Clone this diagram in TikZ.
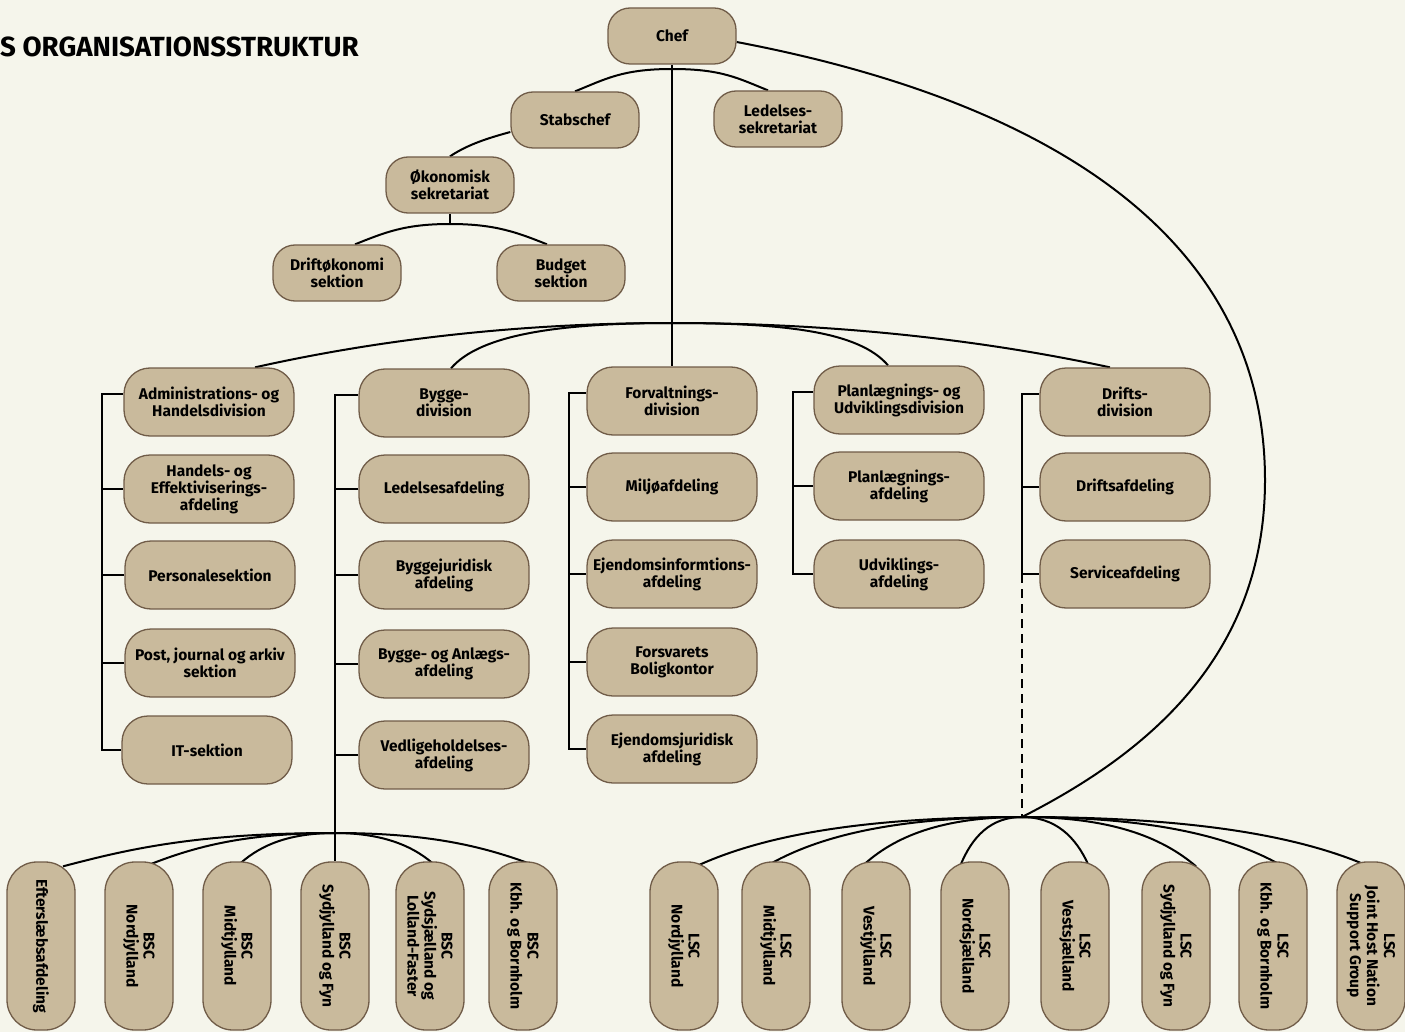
\documentclass[tikz,border=0pt]{standalone}
\usepackage{fontspec}
\usepackage{graphicx,xcolor}
\setmainfont{Fira Sans}
\definecolor{paper}{RGB}{245,245,235}
\definecolor{tan}{RGB}{201,186,156}
\definecolor{rim}{RGB}{112,92,72}
\pgfdeclarelayer{back}
\pgfdeclarelayer{links}
\pgfsetlayers{back,links,main}
\tikzset{
  unit/.style={draw=rim, fill=tan, line width=1.3pt, rounded corners=26pt, align=center,
    inner sep=2pt, font=\bfseries\fontsize{15.5}{17}\selectfont,
    minimum width=170pt, minimum height=68pt},
  topunit/.style={unit, minimum width=128pt, minimum height=56pt, rounded corners=22pt},
  vunit/.style={unit, rotate=-90, minimum width=168pt, minimum height=68pt, rounded corners=30pt},
  link/.style={black, line width=2pt},
  dashlink/.style={link, dash pattern=on 9pt off 6pt},
}

\begin{document}
\begin{tikzpicture}[x=1pt,y=-1pt]
    \useasboundingbox (0,0) rectangle (1405,1032);
    \begin{pgfonlayer}{back}
      \fill[paper] (0,0) rectangle (1405,1032);
    \end{pgfonlayer}
    \node[anchor=base west, inner sep=0pt, font=\bfseries\fontsize{27.7}{32}\selectfont] (title) at (0,57) {S ORGANISATIONSSTRUKTUR};

    % top of the chart
    \node[topunit] (chef) at (672,36) {Chef};
    \node[topunit] (stab) at (575,120) {Stabschef};
    \node[topunit] (led) at (778,119) {Ledelses-\\sekretariat};
    \node[topunit] (oek) at (450,185) {Økonomisk\\sekretariat};
    \node[topunit] (droek) at (337,273) {Driftøkonomi\\sektion};
    \node[topunit] (budget) at (561,273) {Budget\\sektion};

    % divisions
    \node[unit] (adm) at (209,402) {Administrations- og\\Handelsdivision};
    \node[unit] (bygge) at (444,403) {Bygge-\\division};
    \node[unit] (forv) at (672,401) {Forvaltnings-\\division};
    \node[unit] (plan) at (899,400) {Planlægnings- og\\Udviklingsdivision};
    \node[unit] (drifts) at (1125,402) {Drifts-\\division};

    % sections under the divisions
    \node[unit] (hand) at (209,489) {Handels- og\\Effektiviserings-\\afdeling};
    \node[unit] (pers) at (210,575) {Personalesektion};
    \node[unit] (post) at (210,663) {Post, journal og arkiv\\sektion};
    \node[unit] (it) at (207,750) {IT-sektion};

    \node[unit] (ledaf) at (444,489) {Ledelsesafdeling};
    \node[unit] (byjur) at (444,575) {Byggejuridisk\\afdeling};
    \node[unit] (byanl) at (444,664) {Bygge- og Anlægs-\\afdeling};
    \node[unit] (vedl) at (444,755) {Vedligeholdelses-\\afdeling};

    \node[unit] (milj) at (672,487) {Miljøafdeling};
    \node[unit] (einf) at (672,574) {Ejendomsinformtions-\\afdeling};
    \node[unit] (bolig) at (672,662) {Forsvarets\\Boligkontor};
    \node[unit] (ejur) at (672,749) {Ejendomsjuridisk\\afdeling};

    \node[unit] (planaf) at (899,486) {Planlægnings-\\afdeling};
    \node[unit] (udv) at (899,574) {Udviklings-\\afdeling};

    \node[unit] (driftaf) at (1125,487) {Driftsafdeling};
    \node[unit] (serv) at (1125,574) {Serviceafdeling};

    % BSC row
    \node[vunit] (eft) at (41,946) {Efterslæbsafdeling};
    \node[vunit] (bnord) at (139,946) {BSC\\Nordjylland};
    \node[vunit] (bmidt) at (237,946) {BSC\\Midtjylland};
    \node[vunit] (bsyd) at (335,946) {BSC\\Sydjylland og Fyn};
    \node[vunit] (bsydsj) at (430,946) {BSC\\Sydsjælland og\\Lolland-Faster};
    \node[vunit] (bkbh) at (523,946) {BSC\\Kbh. og Bornholm};

    % LSC row
    \node[vunit] (lnord) at (684,946) {LSC\\Nordjylland};
    \node[vunit] (lmidt) at (776,946) {LSC\\Midtjylland};
    \node[vunit] (lvest) at (876,946) {LSC\\Vestjylland};
    \node[vunit] (lnsj) at (975,946) {LSC\\Nordsjælland};
    \node[vunit] (lvsj) at (1075,946) {LSC\\Vestsjælland};
    \node[vunit] (lsyd) at (1176,946) {LSC\\Sydjylland og Fyn};
    \node[vunit] (lkbh) at (1273,946) {LSC\\Kbh. og Bornholm};
    \node[vunit] (ljoint) at (1371,946) {LSC\\Joint Host Nation\\Support Group};

    % junctions and bus columns
    \coordinate (jstab) at (672,69);
    \coordinate (joek) at (450,224);
    \coordinate (jdiv) at (672,323);
    \coordinate (jbsc) at (335,833);
    \coordinate (jlsc) at (1022,817);
    \coordinate (cadm) at (102,0);
    \coordinate (cforv) at (569,0);
    \coordinate (cplan) at (793,0);
    \coordinate (cdrift) at (1022,0);

    \begin{pgfonlayer}{links}
    % chef and staff
    \draw[link] (chef.south) -- (forv.north);
    \draw[link] (jstab) .. controls +(-50,0) and +(30,-12) .. (stab.north);
    \draw[link] (jstab) .. controls +(50,0) and +(-30,-12) .. ([xshift=-10pt]led.north);
    \draw[link] ([yshift=-12pt]stab.west) .. controls +(-22,6) and +(18,-12) .. (oek.north);
    \draw[link] (oek.south) -- (joek);
    \draw[link] (joek) .. controls +(-45,0) and +(30,-12) .. ([xshift=18pt]droek.north);
    \draw[link] (joek) .. controls +(45,0) and +(-30,-12) .. ([xshift=-14pt]budget.north);

    % chef to divisions
    \draw[link] (jdiv) .. controls +(-152,0) and +(125,-28) .. ([xshift=46pt]adm.north);
    \draw[link] (jdiv) .. controls +(-112,0) and +(29,-34) .. ([xshift=7pt]bygge.north);
    \draw[link] (jdiv) .. controls +(112,0) and +(-29,-34) .. ([xshift=-11pt]plan.north);
    \draw[link] (jdiv) .. controls +(160,0) and +(-130,-28) .. ([xshift=-15pt]drifts.north);

    % division columns
    \draw[link] ([yshift=8pt]adm.west) -| (cadm |- it.west) -- (it.west);
    \foreach \n in {hand,pers,post} \draw[link] (\n.west) -- (cadm |- \n.west);
    \draw[link] ([yshift=8pt]bygge.west) -| (bsyd.west);
    \foreach \n in {ledaf,byjur,byanl,vedl} \draw[link] (\n.west) -- (bsyd.west |- \n.west);
    \draw[link] ([yshift=8pt]forv.west) -| (cforv |- ejur.west) -- (ejur.west);
    \foreach \n in {milj,einf,bolig} \draw[link] (\n.west) -- (cforv |- \n.west);
    \draw[link] ([yshift=8pt]plan.west) -| (cplan |- udv.west) -- (udv.west);
    \draw[link] (planaf.west) -- (cplan |- planaf.west);
    \draw[link] ([yshift=8pt]drifts.west) -| (cdrift |- serv.west) -- (serv.west);
    \draw[link] (driftaf.west) -- (cdrift |- driftaf.west);
    \draw[dashlink] (cdrift |- serv.west) -- (jlsc);

    % chef to the LSC row
    \draw[link] ([yshift=-6pt]chef.east) .. controls +(300,57) and (1265,230) .. (1265,480)
      .. controls (1265,660) and (1142,756) .. (jlsc);

    % BSC bus
    \draw[link] (jbsc) .. controls +(-136,0) and +(68,-18) .. ([xshift=22pt,yshift=-5pt]eft.west);
    \draw[link] (jbsc) .. controls +(-95,0) and +(45,-18) .. ([xshift=6pt,yshift=-5pt]bnord.west);
    \draw[link] (jbsc) .. controls +(-50,0) and +(20,-19) .. ([yshift=-5pt]bmidt.west);
    \draw[link] (jbsc) .. controls +(50,0) and +(-20,-19) .. ([xshift=6pt,yshift=-5pt]bsydsj.west);
    \draw[link] (jbsc) .. controls +(101,0) and +(-48,-18) .. ([xshift=14pt,yshift=-5pt]bkbh.west);

    % LSC bus
    \draw[link] (jlsc) .. controls +(-163,0) and +(65,-30) .. ([xshift=12pt,yshift=-5pt]lnord.west);
    \draw[link] (jlsc) .. controls +(-128,0) and +(51,-30) .. ([xshift=-10pt,yshift=-5pt]lmidt.west);
    \draw[link] (jlsc) .. controls +(-80,0) and +(32,-30) .. ([xshift=-14pt,yshift=-5pt]lvest.west);
    \draw[link] (jlsc) .. controls +(-31,0) and +(12,-30) .. ([xshift=-15pt,yshift=-5pt]lnsj.west);
    \draw[link] (jlsc) .. controls +(33,0) and +(-13,-30) .. ([xshift=14pt,yshift=-5pt]lvsj.west);
    \draw[link] (jlsc) .. controls +(87,0) and +(-35,-30) .. ([xshift=20pt,yshift=-5pt]lsyd.west);
    \draw[link] (jlsc) .. controls +(130,0) and +(-52,-30) .. ([xshift=10pt,yshift=-5pt]lkbh.west);
    \draw[link] (jlsc) .. controls +(173,0) and +(-69,-30) .. ([xshift=-2pt,yshift=-5pt]ljoint.west);
    \end{pgfonlayer}
\end{tikzpicture}
\end{document}
